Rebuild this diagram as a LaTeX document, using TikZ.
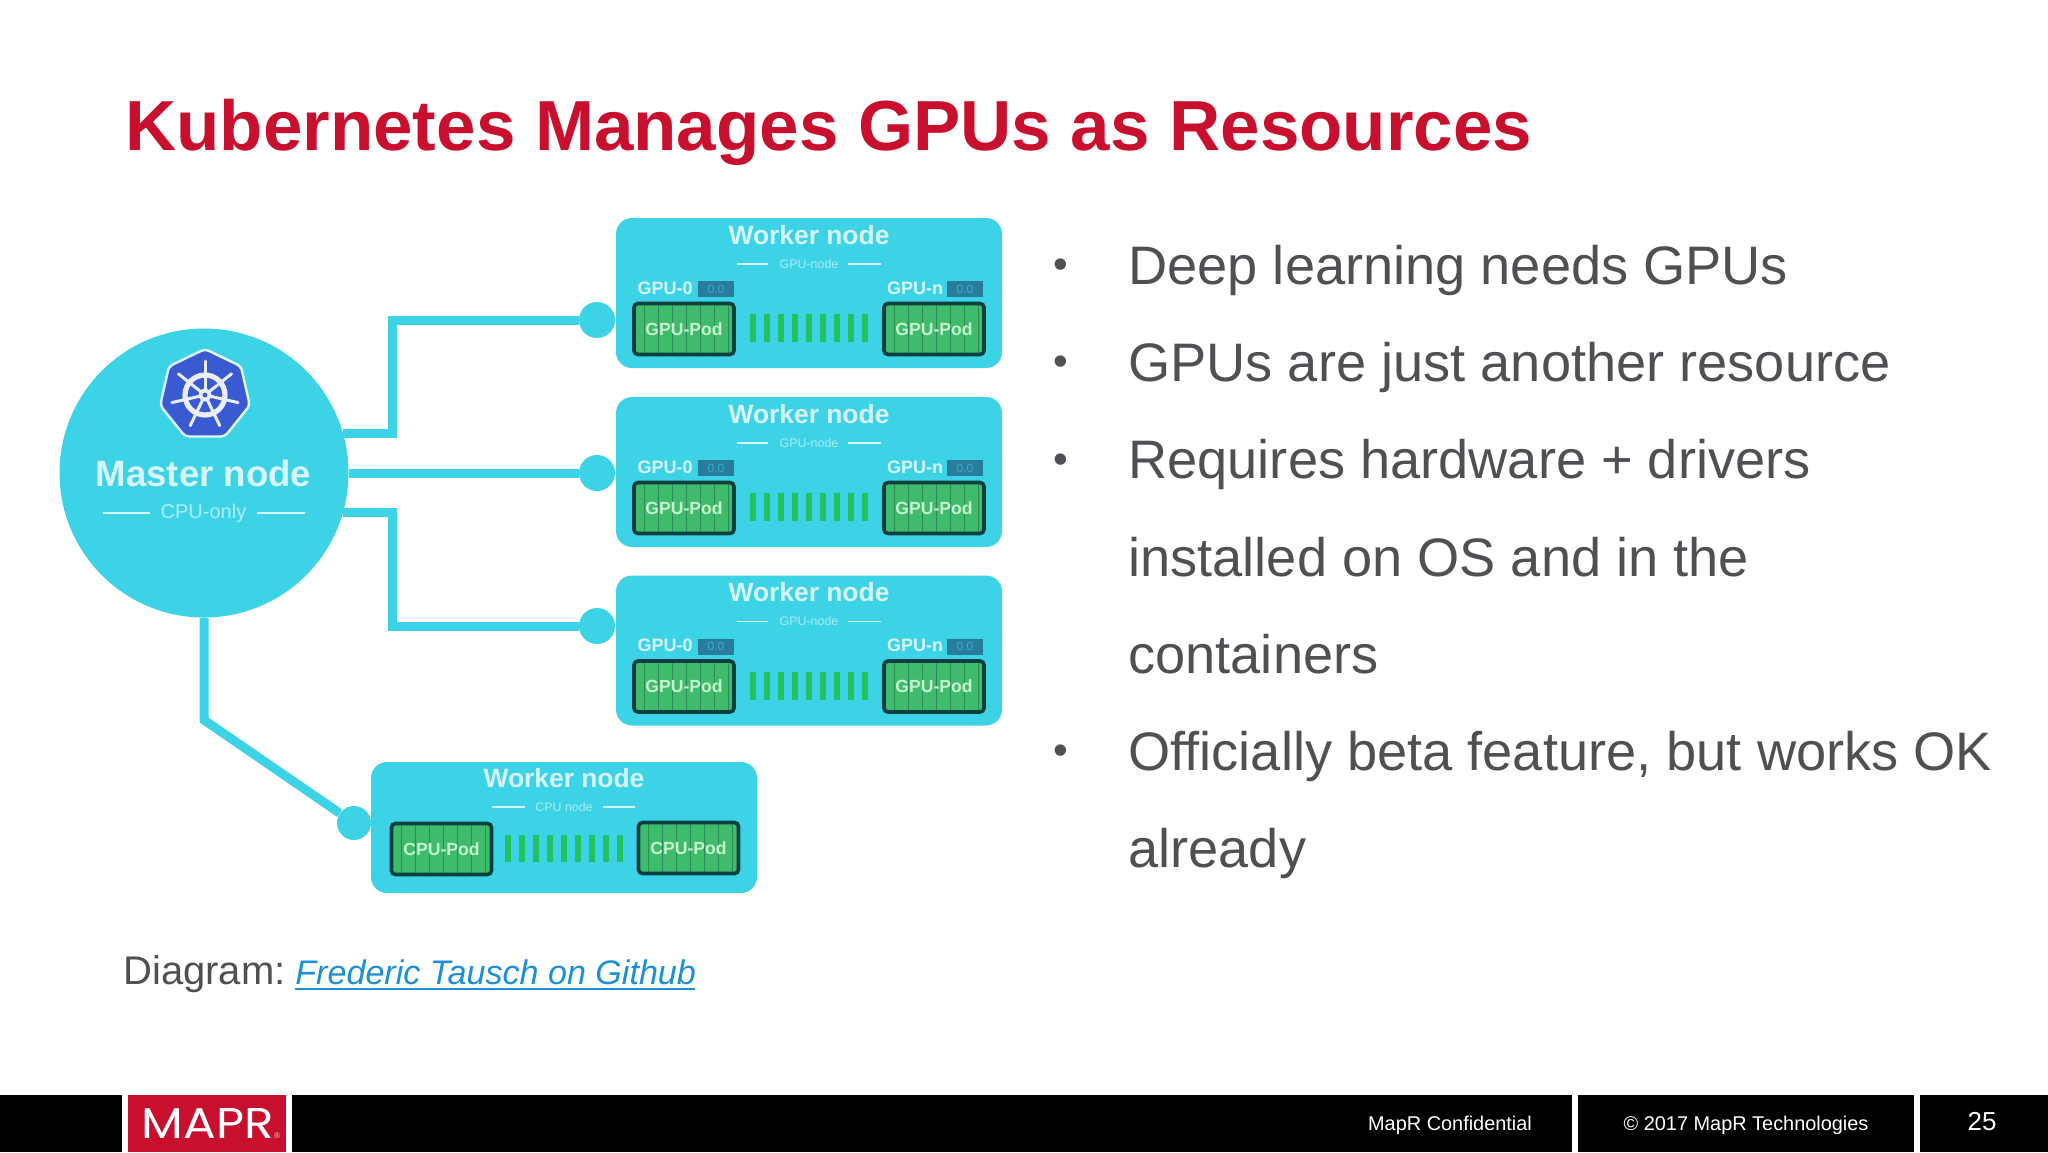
\documentclass[tikz,border=0pt]{standalone}
\usepackage{fontspec}
\setmainfont{Liberation Sans}
\newfontfamily\logofont{Poppins}
\usetikzlibrary{calc}
\definecolor{cyanbox}{HTML}{3DD3E6}
\definecolor{titlered}{HTML}{C8102E}
\definecolor{bodygrey}{HTML}{4F5054}
\definecolor{pale}{HTML}{D8F6FA}
\definecolor{podgreen}{HTML}{3FBB6C}
\definecolor{podedge}{HTML}{0E3F3F}
\definecolor{barg}{HTML}{22C25E}
\definecolor{chipblue}{HTML}{2A7C9C}
\definecolor{k8s}{HTML}{3A5AD2}
\definecolor{linkblue}{HTML}{1C8FD8}
\definecolor{mapred}{HTML}{C8102E}
\definecolor{podtext}{HTML}{C4F3CE}
\newcommand{\fs}[1]{\fontsize{#1}{#1}\selectfont}
\tikzset{
  x=0.5pt,y=-0.5pt,
  worker/.style={draw=none,fill=cyanbox,rounded corners=8pt,minimum width=193pt,inner sep=0pt},
  link/.style={draw=cyanbox,line width=4.5pt},
  dot/.style={circle,fill=cyanbox,minimum size=18pt,inner sep=0pt},
  gridl/.style={draw=podedge!40!podgreen,line width=0.35pt},
  pod/.style={draw=podedge,line width=1.8pt,fill=podgreen,rounded corners=2pt,minimum width=50pt,minimum height=25.5pt,inner sep=0pt,text=podtext,font=\bfseries\fs{8.8},
    path picture={\foreach \gx in {-20,-13,-6,1,8,15,22}{\draw[gridl] ($(path picture bounding box.center)+(\gx pt,-14pt)$) -- ($(path picture bounding box.center)+(\gx pt,14pt)$);}}},
  wtitle/.style={text=pale,font=\bfseries\fs{13.2},inner sep=0pt},
  wsub/.style={text=pale!70!cyanbox,font=\fs{6.2},inner sep=0pt},
  wline/.style={draw=pale,line width=0.9pt},
  gpul/.style={text=pale,font=\bfseries\fs{9},inner sep=0pt},
  chip/.style={fill=chipblue,minimum width=18pt,minimum height=8pt,inner sep=0pt,text=cyanbox!60!chipblue,font=\fs{6}},
  bar/.style={draw=barg,line width=3pt},
  bullet/.style={text=bodygrey,font=\fs{27.1},inner sep=0pt,anchor=base west},
  foot/.style={text=white,font=\fs{9.95},inner sep=0pt},
}
\begin{document}
\begin{tikzpicture}
\useasboundingbox (0,0) rectangle (2048,1152);
\fill[white] (0,0) rectangle (2048,1152);

% title
\node[anchor=base west,inner sep=0pt,text=titlered,font=\bfseries\fs{35.45}] (title) at (125,150) {Kubernetes Manages GPUs as Resources};

% master
\node[circle,fill=cyanbox,minimum size=144.5pt,inner sep=0pt] (master) at (204,473) {};
\node[text=pale,font=\bfseries\fs{18.3},inner sep=0pt] (mtitle) at (203.5,473) {Master node};
\node[text=pale!75!cyanbox,font=\fs{10},inner sep=0pt] (msub) at (203.5,513) {CPU-only};
\draw[wline,line width=1.2pt] (103,513) -- (150,513) (257,513) -- (305,513);

% kubernetes logo
\coordinate (kc) at (205,395);
\fill[k8s,draw=white!85!cyanbox,line width=1.2pt,line join=round,rounded corners=2pt]
  ($(kc)+(90:23pt)$) -- ($(kc)+(38.6:23pt)$) -- ($(kc)+(-12.9:23pt)$) -- ($(kc)+(-64.3:23pt)$) -- ($(kc)+(-115.7:23pt)$) -- ($(kc)+(-167.1:23pt)$) -- ($(kc)+(141.4:23pt)$) -- cycle;
\draw[white!90!k8s,line width=2.6pt] (kc) circle (10pt);
\foreach \a in {90,38.6,-12.9,-64.3,-115.7,-167.1,141.4}{
  \draw[white!90!k8s,line width=1.5pt,line cap=round] (kc) -- ($(kc)+(\a:17pt)$);
}
\fill[white!90!k8s] (kc) circle (3.2pt);
\fill[k8s] (kc) circle (1.2pt);

% GPU workers
\foreach \n/\cy in {1/293,2/472,3/650.5}{
  \node[worker,minimum height=75pt] (w\n) at (809,\cy) {};
  \node[wtitle] (wt\n) at ($(w\n.center)+(0,-58)$) {Worker node};
  \node[wsub] (ws\n) at ($(w\n.center)+(0,-29)$) {GPU-node};
  \draw[wline] ($(w\n.center)+(-72,-29)$) -- ($(w\n.center)+(-41,-29)$) ($(w\n.center)+(39,-29)$) -- ($(w\n.center)+(72,-29)$);
  \node[gpul] (gl\n) at ($(w\n.center)+(-144,-5)$) {GPU-0};
  \node[chip] (cl\n) at ($(w\n.center)+(-93,-4)$) {0.0};
  \node[gpul] (gr\n) at ($(w\n.center)+(106,-5)$) {GPU-n};
  \node[chip] (cr\n) at ($(w\n.center)+(156,-4)$) {0.0};
  \node[pod] (pl\n) at ($(w\n.center)+(-125,36)$) {GPU-Pod};
  \node[pod] (pr\n) at ($(w\n.center)+(125,36)$) {GPU-Pod};
  \foreach \i in {0,...,8}{
    \draw[bar] ($(w\n.center)+(-56+14*\i,21)$) -- ($(w\n.center)+(-56+14*\i,49)$);
  }
}
\node[dot] (d1) at (597,320) {};
\node[dot] (d2) at (597,473) {};
\node[dot] (d3) at (597,626) {};

% CPU worker
\node[worker,minimum height=65.5pt] (w4) at (564,827.5) {};
\node[wtitle] (wt4) at (564,778) {Worker node};
\node[wsub] (ws4) at (564,807) {CPU node};
\draw[wline] (492,807) -- (525,807) (603,807) -- (635,807);
\node[pod] (pl4) at (441.5,849) {CPU-Pod};
\node[pod] (pr4) at (688.5,848) {CPU-Pod};
\foreach \i in {0,...,8}{
  \draw[bar] ($(508+14*\i,835)$) -- ($(508+14*\i,862)$);
}
\node[dot,minimum size=17pt] (d4) at (354,823) {};

% connectors
\coordinate (e1) at (392,320);
\coordinate (e3) at (392,626);
\coordinate (e4) at (204,720);
\draw[link] (master.16) -| (e1) -- (d1);
\draw[link] (master.east) -- (d2);
\draw[link] (master.-16) -| (e3) -- (d3);
\draw[link] (master.south) -- (e4) -- (d4);

% bullets
\foreach \bn/\by in {b1/269,b2/366,b3/463.5,b4/755}{
  \node[text=bodygrey,font=\fs{21},inner sep=0pt] (\bn) at (1061,\by) {•};
}
\node[bullet] (t1) at (1128,284) {Deep learning needs GPUs};
\node[bullet] (t2) at (1128,381) {GPUs are just another resource};
\node[bullet] (t3) at (1128,478.5) {Requires hardware + drivers};
\node[bullet] (t4) at (1128,576) {installed on OS and in the};
\node[bullet] (t5) at (1128,673) {containers};
\node[bullet] (t6) at (1128,770) {Officially beta feature, but works OK};
\node[bullet] (t7) at (1128,867.5) {already};

% caption
\node[anchor=base west,inner sep=0pt,text=bodygrey,font=\fs{20}] (cap) at (123,984) {Diagram:};
\node[anchor=base west,inner sep=0pt,text=linkblue,font=\itshape\fs{17.05}] (lnk) at (295,984) {Frederic Tausch on Github};
\draw[linkblue,line width=1pt] (295,989) -- (695,989);

% footer
\fill[black] (0,1095) rectangle (122,1152);
\fill[mapred] (128,1095) rectangle (286,1152);
\fill[black] (292,1095) rectangle (1572,1152);
\fill[black] (1578,1095) rectangle (1914,1152);
\fill[black] (1920,1095) rectangle (2048,1152);
\node[text=white,inner sep=0pt] (logo) at (208,1123) {\resizebox{66pt}{15pt}{\logofont MAPR}};
\node[text=white!80!mapred,font=\fs{4},inner sep=0pt] (reg) at (277,1136) {®};
\node[foot,anchor=base] (f1) at (1450,1130) {MapR Confidential};
\node[foot,anchor=base] (f2) at (1746,1130) {© 2017 MapR Technologies};
\node[foot,anchor=base,font=\fs{13}] (f3) at (1982,1130) {25};
\end{tikzpicture}
\end{document}
